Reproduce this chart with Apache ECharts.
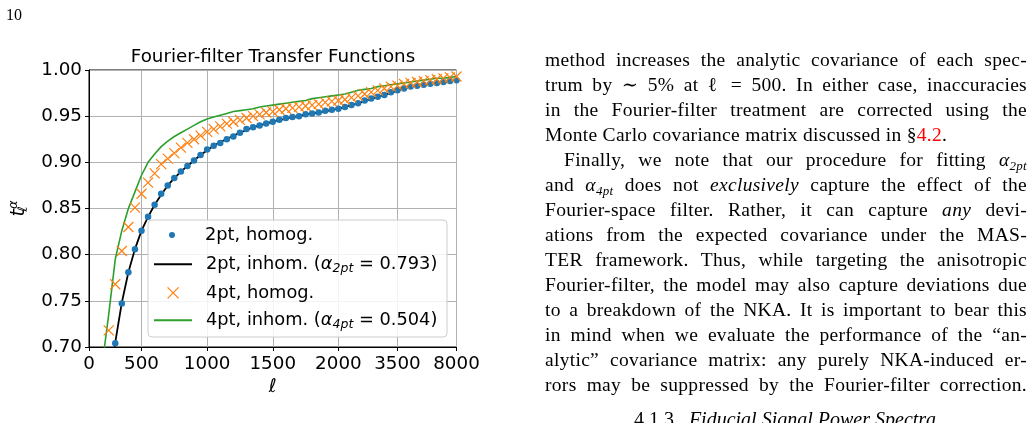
<!DOCTYPE html>
<html>
<head>
<meta charset="utf-8">
<script src="https://cdn.jsdelivr.net/npm/echarts@6/dist/echarts.min.js"></script>
<style>
html, body { margin: 0; padding: 0; width: 1033px; height: 423px; overflow: hidden; background: #fff; }
#chart { position: absolute; left: 0; top: 0; width: 546px; height: 423px; }
.page { font-family: "Liberation Serif", "DejaVu Serif", serif; color: #000; font-size: 19.5px; line-height: 25px; }
#pageno { position: absolute; left: 6px; top: 2px; font-size: 16px; }
#col { position: absolute; left: 545px; top: 47px; width: 482px; letter-spacing: 0.3px; }
#col div { white-space: nowrap; }
.j { text-align: justify; text-align-last: justify; }
.l { text-align: left; }
.ind { padding-left: 19px; }
sub { font-size: 13px; vertical-align: -4px; line-height: 0; font-style: italic; }
.red { color: #ff0000; }
#head { position: absolute; left: 544px; width: 482px; top: 407px; text-align: center; font-size: 20px; }
</style>
</head>
<body>
<div id="chart"></div>
<div id="pageno" class="page">10</div>
<div id="col" class="page">
  <div class="j">method increases the analytic covariance of each spec-</div>
  <div class="j">trum by ∼ 5% at ℓ = 500. In either case, inaccuracies</div>
  <div class="j">in the Fourier-filter treatment are corrected using the</div>
  <div class="l">Monte Carlo covariance matrix discussed in §<span class="red">4.2</span>.</div>
  <div class="j ind">Finally, we note that our procedure for fitting <i>α</i><sub>2pt</sub></div>
  <div class="j">and <i>α</i><sub>4pt</sub> does not <i>exclusively</i> capture the effect of the</div>
  <div class="j">Fourier-space filter. Rather, it can capture <i>any</i> devi-</div>
  <div class="j">ations from the expected covariance under the MAS-</div>
  <div class="j">TER framework. Thus, while targeting the anisotropic</div>
  <div class="j">Fourier-filter, the model may also capture deviations due</div>
  <div class="j">to a breakdown of the NKA. It is important to bear this</div>
  <div class="j">in mind when we evaluate the performance of the “an-</div>
  <div class="j">alytic” covariance matrix: any purely NKA-induced er-</div>
  <div class="j">rors may be suppressed by the Fourier-filter correction.</div>
</div>
<div id="head" class="page">4.1.3.&nbsp;&nbsp;<i>Fiducial Signal Power Spectra</i></div>
<script>
// multipole bin centres, one category per bin
const ellBins = ['100', '150', '200', '250', '300', '350', '400', '450', '500', '550',
    '600', '650', '700', '750', '800', '850', '900', '950', '1000', '1050',
    '1100', '1150', '1200', '1250', '1300', '1350', '1400', '1450', '1500', '1550',
    '1600', '1650', '1700', '1750', '1800', '1850', '1900', '1950', '2000',
    '2167', '2333', '2500', '2667', '2833', '3000', '3167', '3333', '3500',
    '4000', '4500', '5000', '5500', '6000', '6500', '7000', '7500', '8000'];

// labelled ticks (bin index -> text)
const tickIndex = [0, 8, 18, 28, 38, 47, 56];
const tickLabels = ['0', '500', '1000', '1500', '2000', '3500', '8000'];

const alpha2pt = 0.793;
const alpha4pt = 0.504;

// 2pt, homog. (dots), first value at bin 4
const homog2ptStart = 4;
const homog2pt = [0.704, 0.747, 0.781, 0.806, 0.826, 0.841, 0.854, 0.866, 0.875, 0.883,
    0.890, 0.896, 0.902, 0.908, 0.914, 0.918, 0.921, 0.925, 0.928, 0.932,
    0.936, 0.938, 0.940, 0.942, 0.944, 0.946, 0.948, 0.949, 0.950, 0.952,
    0.953, 0.954, 0.956, 0.957, 0.958, 0.960, 0.962, 0.964, 0.967, 0.969,
    0.971, 0.973, 0.976, 0.978, 0.980, 0.982, 0.983, 0.984, 0.985, 0.986,
    0.987, 0.988, 0.989];

// 2pt, inhom. (black line), first value at bin 3
const inhom2ptStart = 3;
const inhom2pt = [0.645, 0.705, 0.748, 0.781, 0.806, 0.826, 0.841, 0.854, 0.865, 0.875,
    0.883, 0.890, 0.896, 0.902, 0.908, 0.913, 0.918, 0.922, 0.925, 0.929,
    0.932, 0.935, 0.938, 0.940, 0.942, 0.944, 0.946, 0.947, 0.949, 0.950,
    0.952, 0.953, 0.954, 0.955, 0.957, 0.958, 0.960, 0.962, 0.964, 0.966,
    0.969, 0.971, 0.973, 0.975, 0.978, 0.980, 0.982, 0.983, 0.984, 0.985,
    0.986, 0.987, 0.988, 0.989];

// 4pt, homog. (crosses), first value at bin 3
const homog4ptStart = 3;
const homog4pt = [0.718, 0.768, 0.804, 0.830, 0.851, 0.866, 0.878, 0.888, 0.898, 0.904,
    0.910, 0.916, 0.921, 0.925, 0.929, 0.933, 0.936, 0.939, 0.942, 0.944,
    0.946, 0.948, 0.950, 0.952, 0.954, 0.955, 0.957, 0.958, 0.959, 0.960,
    0.961, 0.962, 0.963, 0.965, 0.966, 0.967, 0.968, 0.970, 0.972, 0.974,
    0.976, 0.978, 0.980, 0.982, 0.983, 0.985, 0.986, 0.987, 0.988, 0.989,
    0.990, 0.991, 0.992, 0.993];

// 4pt, inhom. (green line), first value at bin 2
const inhom4ptStart = 2;
const inhom4pt = [0.680, 0.735, 0.795, 0.826, 0.850, 0.868, 0.886, 0.900, 0.909, 0.917,
    0.923, 0.928, 0.932, 0.936, 0.940, 0.944, 0.947, 0.949, 0.951, 0.953,
    0.955, 0.956, 0.957, 0.958, 0.960, 0.961, 0.962, 0.963, 0.964, 0.965,
    0.966, 0.967, 0.969, 0.970, 0.971, 0.972, 0.973, 0.974, 0.976, 0.978,
    0.979, 0.980, 0.982, 0.983, 0.984, 0.985, 0.986, 0.987, 0.988, 0.989,
    0.990, 0.991, 0.991, 0.992, 0.993];

const yTicks = [0.70, 0.75, 0.80, 0.85, 0.90, 0.95, 1.00];

const names = ['2pt, homog.', '2pt, inhom.', '4pt, homog.', '4pt, inhom.'];

var FONT = 'DejaVu Sans';

// put a partial series onto the full list of bins
function onBins(start, vals) {
    var out = ellBins.map(function () { return '-'; });
    vals.forEach(function (v, i) { out[start + i] = v; });
    return out;
}

function legendText(name) {
    if (name === names[1]) {
        return '{n|' + name + ' (}{a|α}{s|2pt}{n| = ' + alpha2pt.toFixed(3) + ')}';
    }
    if (name === names[3]) {
        return '{n|' + name + ' (}{a|α}{s|4pt}{n| = ' + alpha4pt.toFixed(3) + ')}';
    }
    return '{n|' + name + '}';
}

var legendRich = {
    n: { fontFamily: FONT, fontSize: 17.8, color: '#000' },
    a: { fontFamily: FONT, fontSize: 17.8, color: '#000', fontStyle: 'italic' },
    s: { fontFamily: FONT, fontSize: 12.5, color: '#000', fontStyle: 'italic', padding: [9, 0, 0, 0] }
};

function legendFor(item, left, top, itemHeight, extra) {
    var lg = {
        data: [item],
        left: left,
        top: top,
        orient: 'vertical',
        padding: 0,
        itemWidth: 38,
        itemHeight: itemHeight,
        selectedMode: false,
        formatter: legendText,
        textStyle: { padding: [0, 0, 0, 9], rich: legendRich }
    };
    return Object.assign(lg, extra || {});
}

var isTick = function (idx) { return tickIndex.indexOf(idx) >= 0; };

var option = {
    animation: false,
    textStyle: { fontFamily: FONT },
    title: {
        text: 'Fourier-filter Transfer Functions',
        left: 'center',
        top: 48,
        padding: 0,
        textStyle: { fontFamily: FONT, fontSize: 18.3, fontWeight: 'normal', color: '#000' }
    },
    grid: {
        left: 89, top: 70, width: 367.5, height: 277,
        show: true, borderColor: '#000', borderWidth: 1, backgroundColor: 'transparent',
        outerBoundsMode: 'none'
    },
    graphic: [{
        type: 'rect',
        z: 3,
        shape: { x: 148, y: 220, width: 299, height: 117, r: 4 },
        style: { fill: 'rgba(255,255,255,0.85)', stroke: '#cccccc', lineWidth: 1 }
    }],
    legend: [
        legendFor(names[0], 169, 226, 6),
        legendFor({ name: names[1], itemStyle: { opacity: 0 } }, 153, 255.3, 14),
        legendFor(names[2], 167, 283.9, 11, { itemStyle: { borderWidth: 1.2, borderColor: '#ff7f0e' } }),
        legendFor({ name: names[3], itemStyle: { opacity: 0 } }, 153, 311.3, 14)
    ],
    xAxis: {
        type: 'category',
        data: ellBins,
        boundaryGap: false,
        name: 'ℓ',
        nameLocation: 'middle',
        nameGap: 29,
        nameTextStyle: { fontFamily: FONT, fontSize: 19, fontStyle: 'italic', color: '#000' },
        axisLine: { show: true, lineStyle: { color: '#000', width: 1 } },
        axisTick: { show: true, interval: isTick, length: 4, lineStyle: { color: '#000' } },
        axisLabel: {
            interval: isTick,
            margin: 8,
            fontFamily: FONT, fontSize: 18.3, color: '#000',
            formatter: function (v, idx) { return tickLabels[tickIndex.indexOf(idx)]; }
        },
        splitLine: { show: true, interval: isTick, lineStyle: { color: '#b0b0b0', width: 1 } }
    },
    yAxis: {
        type: 'value',
        min: yTicks[0],
        max: yTicks[yTicks.length - 1],
        interval: 0.05,
        name: '{t|t}{l|ℓ}{a|α}',
        nameLocation: 'middle',
        nameRotate: 90,
        nameGap: 58,
        nameTextStyle: {
            rich: {
                t: { fontFamily: FONT, fontSize: 19, fontStyle: 'italic', color: '#000' },
                l: { fontFamily: FONT, fontSize: 13, fontStyle: 'italic', color: '#000', width: 0.1, padding: [10, 0, 0, 0] },
                a: { fontFamily: FONT, fontSize: 13, fontStyle: 'italic', color: '#000', padding: [0, 0, 10, 0] }
            }
        },
        axisLine: { show: true, lineStyle: { color: '#000', width: 1 } },
        axisTick: { show: true, length: 4, lineStyle: { color: '#000' } },
        axisLabel: {
            margin: 7,
            fontFamily: FONT, fontSize: 18.3, color: '#000',
            formatter: function (v) { return v.toFixed(2); }
        },
        splitLine: { show: true, lineStyle: { color: '#b0b0b0', width: 1 } }
    },
    series: [
        {
            name: names[0],
            type: 'scatter',
            data: onBins(homog2ptStart, homog2pt),
            symbol: 'circle',
            symbolSize: 6.5,
            itemStyle: { color: '#1f77b4', opacity: 1 },
            z: 2
        },
        {
            name: names[1],
            type: 'line',
            data: onBins(inhom2ptStart, inhom2pt),
            symbol: 'none',
            showSymbol: false,
            itemStyle: { color: '#000' },
            lineStyle: { color: '#000', width: 1.8 },
            clip: true,
            z: 2
        },
        {
            name: names[2],
            type: 'scatter',
            data: onBins(homog4ptStart, homog4pt),
            symbol: 'path://M0,0L10,10M10,0L0,10',
            symbolSize: 10,
            itemStyle: { color: '#ff7f0e', borderColor: '#ff7f0e', borderWidth: 1.2, opacity: 1 },
            z: 2
        },
        {
            name: names[3],
            type: 'line',
            data: onBins(inhom4ptStart, inhom4pt),
            symbol: 'none',
            showSymbol: false,
            itemStyle: { color: '#2ca02c' },
            lineStyle: { color: '#2ca02c', width: 1.6 },
            clip: true,
            z: 2
        }
    ]
};

var chart = echarts.init(document.getElementById('chart'));
chart.setOption(option);
</script>
</body>
</html>
